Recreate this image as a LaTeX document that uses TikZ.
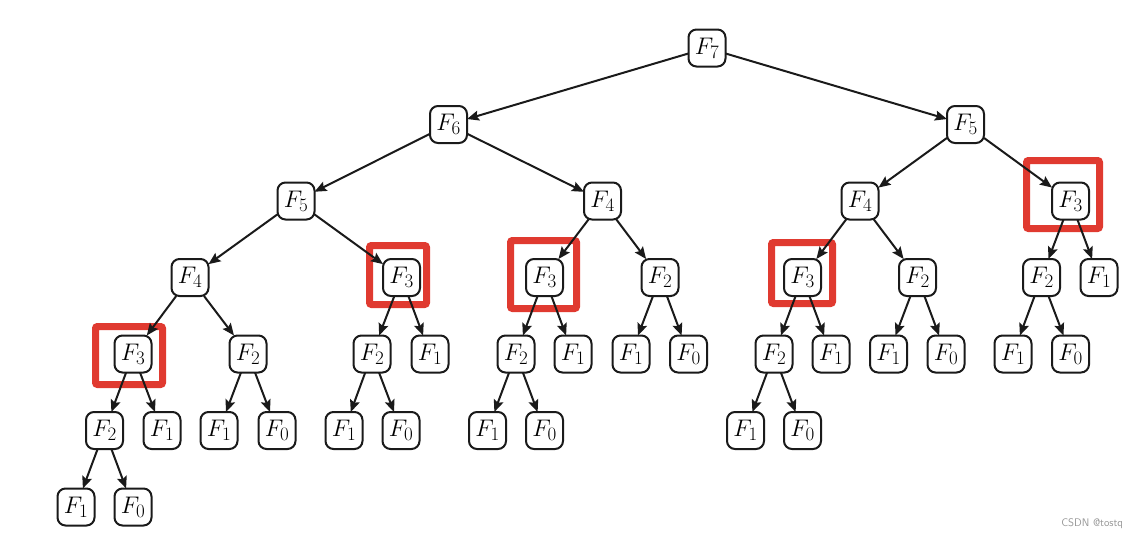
\RequirePackage{fix-cm}
\documentclass[tikz,border=0pt]{standalone}
\usepackage{tikz}
\usetikzlibrary{arrows.meta,positioning}
\DeclareMathSizes{24}{24}{19}{15}
\definecolor{myred}{RGB}{224,58,48}
\definecolor{myink}{RGB}{26,26,26}
\definecolor{mygray}{RGB}{150,150,150}
\pgfdeclarelayer{background}
\pgfsetlayers{background,main}
\tikzset{
  fibtree/.style={
    x=1pt,y=-1pt
    ,inner sep=0pt
    ,outer sep=0pt
  }
  ,fibnode/.style={
    draw=myink, line width=2pt,
    fill=white,
    rounded corners=8pt,
    minimum width=37pt,
    minimum height=37pt,
    font=\fontsize{24}{28}\selectfont
  }
  ,edge/.style={draw=myink, line width=2pt,
    -{Stealth[length=12pt,width=10pt,inset=2pt]}}
  ,redbox/.style={draw=myred, line width=7pt, rounded corners=2pt}
  ,wmark/.style={font=\sffamily\fontsize{11}{13}\selectfont, text=mygray}
}

\begin{document}
\begin{tikzpicture}[fibtree]
    \useasboundingbox (0,0) rectangle (1138,546);
    % level 0 and 1
    \node[fibnode] (t) at (707,48) {$F_7$};
    \node[fibnode] (tl) at (448.5,124.5) {$F_6$};
    \node[fibnode] (tr) at (965.5,124.5) {$F_5$};
    % level 2
    \node[fibnode] (tll) at (296,201) {$F_5$};
    \node[fibnode] (tlr) at (602.5,201) {$F_4$};
    \node[fibnode] (trl) at (860,201) {$F_4$};
    \node[fibnode] (trr) at (1070.5,201) {$F_3$};
    % level 3
    \node[fibnode] (tlll) at (190,277.5) {$F_4$};
    \node[fibnode] (tllr) at (401.5,277.5) {$F_3$};
    \node[fibnode] (tlrl) at (544.5,277.5) {$F_3$};
    \node[fibnode] (tlrr) at (660,277.5) {$F_2$};
    \node[fibnode] (trll) at (802.5,277.5) {$F_3$};
    \node[fibnode] (trlr) at (917.5,277.5) {$F_2$};
    \node[fibnode] (trrl) at (1041.5,277.5) {$F_2$};
    \node[fibnode] (trrr) at (1099,277.5) {$F_1$};
    % level 4
    \node[fibnode] (tllll) at (133,354) {$F_3$};
    \node[fibnode] (tlllr) at (248,354) {$F_2$};
    \node[fibnode] (tllrl) at (372,354) {$F_2$};
    \node[fibnode] (tllrr) at (430,354) {$F_1$};
    \node[fibnode] (tlrll) at (516,354) {$F_2$};
    \node[fibnode] (tlrlr) at (573,354) {$F_1$};
    \node[fibnode] (tlrrl) at (631,354) {$F_1$};
    \node[fibnode] (tlrrr) at (688.5,354) {$F_0$};
    \node[fibnode] (trlll) at (774,354) {$F_2$};
    \node[fibnode] (trllr) at (831,354) {$F_1$};
    \node[fibnode] (trlrl) at (888.5,354) {$F_1$};
    \node[fibnode] (trlrr) at (946,354) {$F_0$};
    \node[fibnode] (trrll) at (1013,354) {$F_1$};
    \node[fibnode] (trrlr) at (1070.5,354) {$F_0$};
    % level 5
    \node[fibnode] (tlllll) at (104.5,430.5) {$F_2$};
    \node[fibnode] (tllllr) at (162,430.5) {$F_1$};
    \node[fibnode] (tlllrl) at (219,430.5) {$F_1$};
    \node[fibnode] (tlllrr) at (277,430.5) {$F_0$};
    \node[fibnode] (tllrll) at (344,430.5) {$F_1$};
    \node[fibnode] (tllrlr) at (401,430.5) {$F_0$};
    \node[fibnode] (tlrlll) at (487.5,430.5) {$F_1$};
    \node[fibnode] (tlrllr) at (544.5,430.5) {$F_0$};
    \node[fibnode] (trllll) at (745.5,430.5) {$F_1$};
    \node[fibnode] (trlllr) at (802.5,430.5) {$F_0$};
    % level 6
    \node[fibnode] (tllllll) at (76,507) {$F_1$};
    \node[fibnode] (tlllllr) at (133,507) {$F_0$};
    % edges
    \draw[edge] (t) -- (tl); \draw[edge] (t) -- (tr);
    \draw[edge] (tl) -- (tll); \draw[edge] (tl) -- (tlr);
    \draw[edge] (tr) -- (trl); \draw[edge] (tr) -- (trr);
    \draw[edge] (tll) -- (tlll); \draw[edge] (tll) -- (tllr);
    \draw[edge] (tlr) -- (tlrl); \draw[edge] (tlr) -- (tlrr);
    \draw[edge] (trl) -- (trll); \draw[edge] (trl) -- (trlr);
    \draw[edge] (trr) -- (trrl); \draw[edge] (trr) -- (trrr);
    \draw[edge] (tlll) -- (tllll); \draw[edge] (tlll) -- (tlllr);
    \draw[edge] (tllr) -- (tllrl); \draw[edge] (tllr) -- (tllrr);
    \draw[edge] (tlrl) -- (tlrll); \draw[edge] (tlrl) -- (tlrlr);
    \draw[edge] (tlrr) -- (tlrrl); \draw[edge] (tlrr) -- (tlrrr);
    \draw[edge] (trll) -- (trlll); \draw[edge] (trll) -- (trllr);
    \draw[edge] (trlr) -- (trlrl); \draw[edge] (trlr) -- (trlrr);
    \draw[edge] (trrl) -- (trrll); \draw[edge] (trrl) -- (trrlr);
    \draw[edge] (tllll) -- (tlllll); \draw[edge] (tllll) -- (tllllr);
    \draw[edge] (tlllr) -- (tlllrl); \draw[edge] (tlllr) -- (tlllrr);
    \draw[edge] (tllrl) -- (tllrll); \draw[edge] (tllrl) -- (tllrlr);
    \draw[edge] (tlrll) -- (tlrlll); \draw[edge] (tlrll) -- (tlrllr);
    \draw[edge] (trlll) -- (trllll); \draw[edge] (trlll) -- (trlllr);
    \draw[edge] (tlllll) -- (tllllll); \draw[edge] (tlllll) -- (tlllllr);
    % repeated F3 calls
    \begin{pgfonlayer}{background}
      \node[redbox, minimum width=67pt, minimum height=58pt] (boxa) at (129,355.5) {};
      \node[redbox, minimum width=57pt, minimum height=59pt] (boxb) at (398,275) {};
      \node[redbox, minimum width=66pt, minimum height=68pt] (boxc) at (543.5,274.5) {};
      \node[redbox, minimum width=61pt, minimum height=61pt] (boxd) at (802,273) {};
      \node[redbox, minimum width=73pt, minimum height=68pt] (boxe) at (1063,194.5) {};
    \end{pgfonlayer}
    \node[wmark, anchor=east] (wm) at (1123,524) {CSDN @tostq};
\end{tikzpicture}
\end{document}
